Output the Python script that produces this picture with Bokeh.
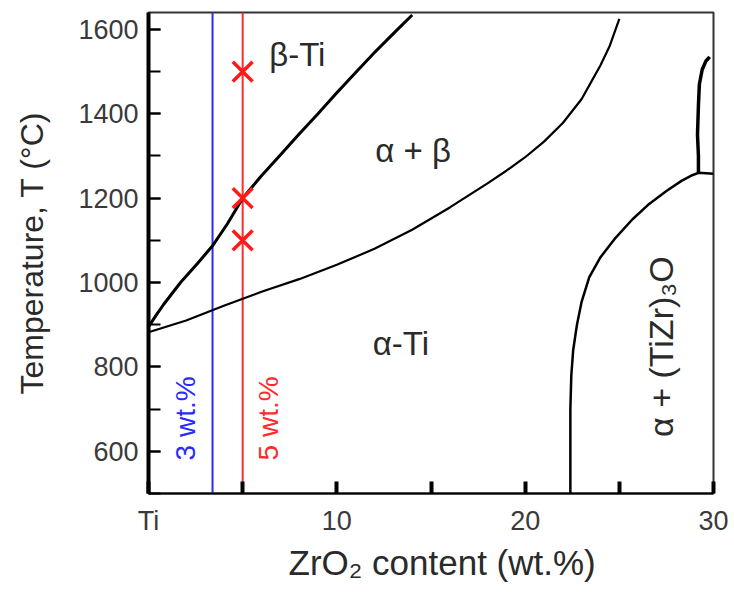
import math
from bokeh.plotting import figure
from bokeh.models import Range1d, FixedTicker, Title
from bokeh.core.properties import value
from bokeh.embed import file_html
from bokeh.resources import INLINE

# ---- data ----
beta_transus_x = [0, 0.4, 0.8, 1.7, 2.6, 3.4, 4.2, 5.0, 6.0, 7.0, 8.0, 9.0, 10.0, 11.0, 12.0, 13.0, 14.0]
beta_transus_T = [895, 922, 948, 1000, 1045, 1087, 1140, 1200, 1253, 1302, 1352, 1400, 1450, 1498, 1545, 1590, 1634]

alpha_transus_x = [0, 2, 4, 6, 8, 10, 12, 14, 16, 18, 19, 20, 21, 22, 23, 23.5, 24, 24.5, 25.0]
alpha_transus_T = [882, 910, 945, 978, 1008, 1042, 1080, 1125, 1178, 1235, 1265, 1297, 1334, 1378, 1435, 1475, 1515, 1562, 1625]

solvus_x = [22.4, 22.4, 22.45, 22.55, 22.75, 23.0, 23.4, 24.0, 24.8, 25.7, 26.6, 27.5, 28.3, 28.8, 29.2, 30.0]
solvus_T = [500, 700, 780, 840, 900, 955, 1012, 1060, 1106, 1150, 1187, 1217, 1241, 1253, 1260, 1258]

upper_x = [29.2, 29.2, 29.15, 29.2, 29.25, 29.4, 29.6, 29.8]
upper_T = [1260, 1300, 1350, 1420, 1470, 1505, 1525, 1535]

comp_x = [3.4, 5.0]
comp_colors = ["#2b2bff", "#ff2b2b"]
comp_labels = ["3 wt.%", "5 wt.%"]
comp_label_x = [1.95, 6.35]
comp_label_T = [678, 678]

cross_x = [5.0, 5.0, 5.0]
cross_T = [1500, 1200, 1100]

region_labels = ["β-Ti", "α + β", "α-Ti"]
region_x = [7.9, 14.05, 13.4]
region_T = [1540, 1312, 856]

solvus_label = ["α + (TiZr)₃O"]
solvus_label_x = [27.2]
solvus_label_T = [848]

x_major = [0, 10, 20, 30]
x_minor = [5, 15, 25]
x_tick_labels = {0: "Ti"}
y_major = [600, 800, 1000, 1200, 1400, 1600]
y_minor = [500, 600, 700, 800, 900, 1000, 1100, 1200, 1300, 1400, 1500, 1600]

FONT = "Liberation Sans"
INK = "#2a2a2a"

p = figure(width=734, height=592, output_backend="svg", toolbar_location=None,
           x_range=Range1d(0, 30), y_range=Range1d(500, 1640),
           min_border_left=148, min_border_right=21, min_border_top=12, min_border_bottom=99)
p.xgrid.visible = False
p.ygrid.visible = False
p.background_fill_color = "white"
p.border_fill_color = "white"
p.outline_line_color = "#333333"
p.outline_line_width = 2

# axes
p.xaxis.ticker = FixedTicker(ticks=x_major, minor_ticks=x_minor)
p.xaxis.major_label_overrides = x_tick_labels
p.yaxis.ticker = FixedTicker(ticks=y_major, minor_ticks=y_minor)
for ax in (p.xaxis[0], p.yaxis[0]):
    ax.major_tick_in = 12
    ax.major_tick_out = 0
    ax.minor_tick_in = 12
    ax.minor_tick_out = 0
    ax.major_tick_line_color = "black"
    ax.minor_tick_line_color = "black"
    ax.axis_line_color = "black"
    ax.major_label_text_font = FONT
    ax.major_label_text_font_size = "27px"
    ax.major_label_text_color = "#3a3a3a"
    ax.axis_label_text_font = FONT
    ax.axis_label_text_font_style = "normal"
    ax.axis_label_text_color = INK
p.xaxis.major_tick_line_width = 4
p.xaxis.minor_tick_line_width = 4
p.xaxis.axis_line_width = 2
p.yaxis.major_tick_line_width = 2
p.yaxis.minor_tick_line_width = 2
p.yaxis.axis_line_width = 4
p.xaxis.major_label_standoff = 12
p.yaxis.major_label_standoff = 10
p.yaxis.axis_label = "Temperature, T (°C)"
p.yaxis.axis_label_text_font_size = "32px"
p.yaxis.axis_label_standoff = 25

# x-axis title (slightly right of the frame centre, as in the reference)
p.add_layout(Title(text="ZrO₂ content (wt.%)", align="left", offset=140,
                   text_font=FONT, text_font_size="35px", text_font_style="normal",
                   text_color=INK, standoff=4), "below")

# composition lines
p.segment(x0=comp_x, y0=[500] * len(comp_x), x1=comp_x, y1=[1640] * len(comp_x),
          line_color=comp_colors, line_width=2)

# phase boundaries
p.line(beta_transus_x, beta_transus_T, line_color="black", line_width=3, line_join="round")
p.line(alpha_transus_x, alpha_transus_T, line_color="black", line_width=2.2, line_join="round")
p.line(solvus_x, solvus_T, line_color="black", line_width=2.5, line_join="round")
p.line(upper_x, upper_T, line_color="black", line_width=3.5, line_join="round")

# experiment points
p.scatter(cross_x, cross_T, marker="x", size=28, line_width=3.5, line_color="#ff1a1a")

# labels
p.text(x=region_x, y=region_T, text=region_labels, text_font=value(FONT),
       text_font_size="33px", text_align="center", text_baseline="middle", text_color=INK)
p.text(x=solvus_label_x, y=solvus_label_T, text=solvus_label, text_font=value(FONT),
       text_font_size="34px", text_align="center", text_baseline="middle",
       text_color=INK, angle=math.pi / 2)
p.text(x=comp_label_x, y=comp_label_T, text=comp_labels, text_font=value(FONT),
       text_font_size="28px", text_align="center", text_baseline="middle",
       text_color=comp_colors, angle=math.pi / 2)

open("out.html", "w").write(file_html(p, INLINE))
